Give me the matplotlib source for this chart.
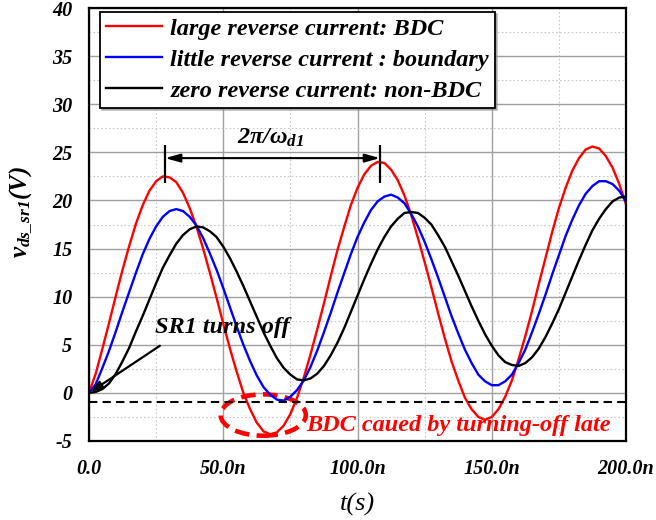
import numpy as np
import matplotlib
matplotlib.use("Agg")
import matplotlib.pyplot as plt
from matplotlib.patches import Ellipse
from matplotlib.ticker import MultipleLocator

plt.rcParams['font.family'] = 'Liberation Serif'
plt.rcParams['font.weight'] = 'bold'
plt.rcParams['font.style'] = 'italic'
plt.rcParams['axes.unicode_minus'] = False
plt.rcParams['mathtext.fontset'] = 'custom'
plt.rcParams['mathtext.rm'] = 'Liberation Serif:bold:italic'
plt.rcParams['mathtext.it'] = 'Liberation Serif:bold:italic'
plt.rcParams['mathtext.bf'] = 'Liberation Serif:bold:italic'

# time samples in ns
t_ns = np.arange(0, 200.1, 2.5)

# large reverse current (BDC)
v_red = [0.0, 2.0, 4.6, 7.3, 10.1, 12.8, 15.3, 17.6, 19.5,
         21.0, 22.0, 22.5, 22.4, 21.9, 20.8, 19.2, 17.3, 15.0,
         12.5, 9.9, 7.2, 4.6, 2.2, 0.0, -1.7, -3.1, -4.0,
         -4.3, -4.1, -3.4, -2.2, -0.5, 1.6, 4.0, 6.6, 9.3,
         12.1, 14.8, 17.2, 19.5, 21.3, 22.7, 23.6, 24.0, 23.9,
         23.2, 22.1, 20.5, 18.5, 16.1, 13.6, 11.0, 8.3, 5.7,
         3.3, 1.3, -0.5, -1.7, -2.5, -2.8, -2.5, -1.7, -0.4,
         1.3, 3.5, 5.9, 8.5, 11.3, 14.0, 16.7, 19.2, 21.3,
         23.1, 24.4, 25.3, 25.6, 25.4, 24.6, 23.4, 21.7, 19.6]

# little reverse current (boundary)
v_blue = [0.0, 0.9, 2.6, 4.4, 6.4, 8.5, 10.5, 12.5, 14.4,
          16.0, 17.3, 18.3, 18.9, 19.1, 18.9, 18.3, 17.4, 16.1,
          14.5, 12.8, 10.9, 8.9, 6.9, 5.0, 3.3, 1.8, 0.6,
          -0.2, -0.7, -0.8, -0.4, 0.3, 1.3, 2.7, 4.4, 6.3,
          8.3, 10.4, 12.4, 14.4, 16.2, 17.7, 19.0, 19.9, 20.4,
          20.6, 20.3, 19.7, 18.6, 17.3, 15.7, 13.9, 12.0, 10.0,
          8.0, 6.2, 4.5, 3.1, 1.9, 1.2, 0.8, 0.8, 1.2,
          1.9, 3.1, 4.5, 6.3, 8.2, 10.2, 12.3, 14.3, 16.3,
          18.0, 19.5, 20.7, 21.5, 22.0, 22.0, 21.7, 21.0, 19.9]

# zero reverse current (non-BDC)
v_black = [0.0, 0.1, 0.4, 1.0, 2.0, 3.3, 4.7, 6.4, 8.0,
           9.7, 11.4, 13.0, 14.3, 15.5, 16.4, 17.0, 17.3, 17.2,
           16.8, 16.2, 15.2, 14.0, 12.6, 11.1, 9.5, 7.9, 6.3,
           4.9, 3.6, 2.6, 1.9, 1.4, 1.3, 1.5, 2.0, 2.8,
           3.9, 5.2, 6.7, 8.4, 10.1, 11.8, 13.4, 14.9, 16.2,
           17.3, 18.1, 18.7, 18.8, 18.7, 18.2, 17.5, 16.4, 15.2,
           13.7, 12.2, 10.6, 9.0, 7.5, 6.1, 4.9, 3.9, 3.2,
           2.9, 2.8, 3.1, 3.7, 4.6, 5.8, 7.2, 8.7, 10.4,
           12.1, 13.8, 15.4, 16.9, 18.1, 19.1, 19.9, 20.3, 20.4]

labels = ['large reverse current: BDC',
          'little reverse current : boundary',
          'zero reverse current: non-BDC']
x_ticks = [0, 50, 100, 150, 200]
x_ticklabels = ['0.0', '50.0n', '100.0n', '150.0n', '200.0n']
y_ticks = [-5, 0, 5, 10, 15, 20, 25, 30, 35, 40]
threshold = -0.9

fig = plt.figure(figsize=(6.56, 5.2), dpi=100)
ax = fig.add_axes([89/656, 79/520, 537/656, 433/520])

ax.plot(t_ns, v_red, color='#ff0000', lw=1.7, label=labels[0])
ax.plot(t_ns, v_blue, color='#0000ff', lw=1.7, label=labels[1])
ax.plot(t_ns, v_black, color='black', lw=1.7, label=labels[2])
ax.axhline(threshold, color='black', lw=1.5, ls=(0, (4, 2.5)))

ax.set_xlim(0, 200)
ax.set_ylim(-5, 40)
ax.set_xticks(x_ticks)
ax.set_xticklabels(x_ticklabels)
ax.set_yticks(y_ticks)
ax.xaxis.set_minor_locator(MultipleLocator(25))
ax.yaxis.set_minor_locator(MultipleLocator(2.5))
ax.grid(which='major', color='#a0a0a0', lw=1.0)
ax.grid(which='minor', color='#c8c8c8', lw=0.8, ls=(0, (1.5, 2)))
ax.set_axisbelow(True)
ax.tick_params(which='both', length=0, labelsize=14.5)
ax.tick_params(axis='x', pad=13)
ax.tick_params(axis='y', pad=12)
for s in ax.spines.values():
    s.set_linewidth(1.6)

ax.set_xlabel('t(s)', fontsize=19, labelpad=10)
ax.set_ylabel(r'$v_{ds\_sr1}(V)$', fontsize=18)
ax.yaxis.set_label_coords(-0.103, 0.53)

leg = ax.legend(loc='upper left', bbox_to_anchor=(0.02, 0.991), borderaxespad=0,
                fontsize=17.5, handlelength=2.3, handletextpad=0.35,
                labelspacing=0.36, fancybox=False, edgecolor='black',
                framealpha=1, borderpad=0.25,
                shadow={'ox': 1.5, 'oy': -1.5, 'color': '#888888'})
leg.get_frame().set_linewidth(1.3)

# period marker
ax.vlines([28.3, 108.4], 21.8, 25.8, color='black', lw=1.6)
ax.annotate('', xy=(28.3, 24.4), xytext=(108.4, 24.4),
            arrowprops=dict(arrowstyle='<|-|>,head_length=0.9,head_width=0.25',
                            color='black', lw=1.5, shrinkA=0, shrinkB=0))
ax.text(67.5, 26.5, r'$2\pi/\omega_{d1}$', fontsize=17.5, ha='center', va='center')

# turn-off annotation
ax.text(24.5, 6.8, 'SR1 turns off', fontsize=17.5, va='center', ha='left')
ax.annotate('', xy=(0.6, 0.1), xytext=(26.4, 4.9),
            arrowprops=dict(arrowstyle='-|>,head_length=0.7,head_width=0.25',
                            color='black', lw=1.6, shrinkA=0, shrinkB=0))

ax.add_patch(Ellipse((64.9, -2.3), 31.7, 4.3, fill=False, edgecolor='#ff0000',
                     lw=3.3, ls=(0, (3.2, 1.6))))
ax.text(81, -3.4, 'BDC caued by turning-off late', color='#ff0000',
        fontsize=17.5, va='center', ha='left')

fig.savefig('out.png')
